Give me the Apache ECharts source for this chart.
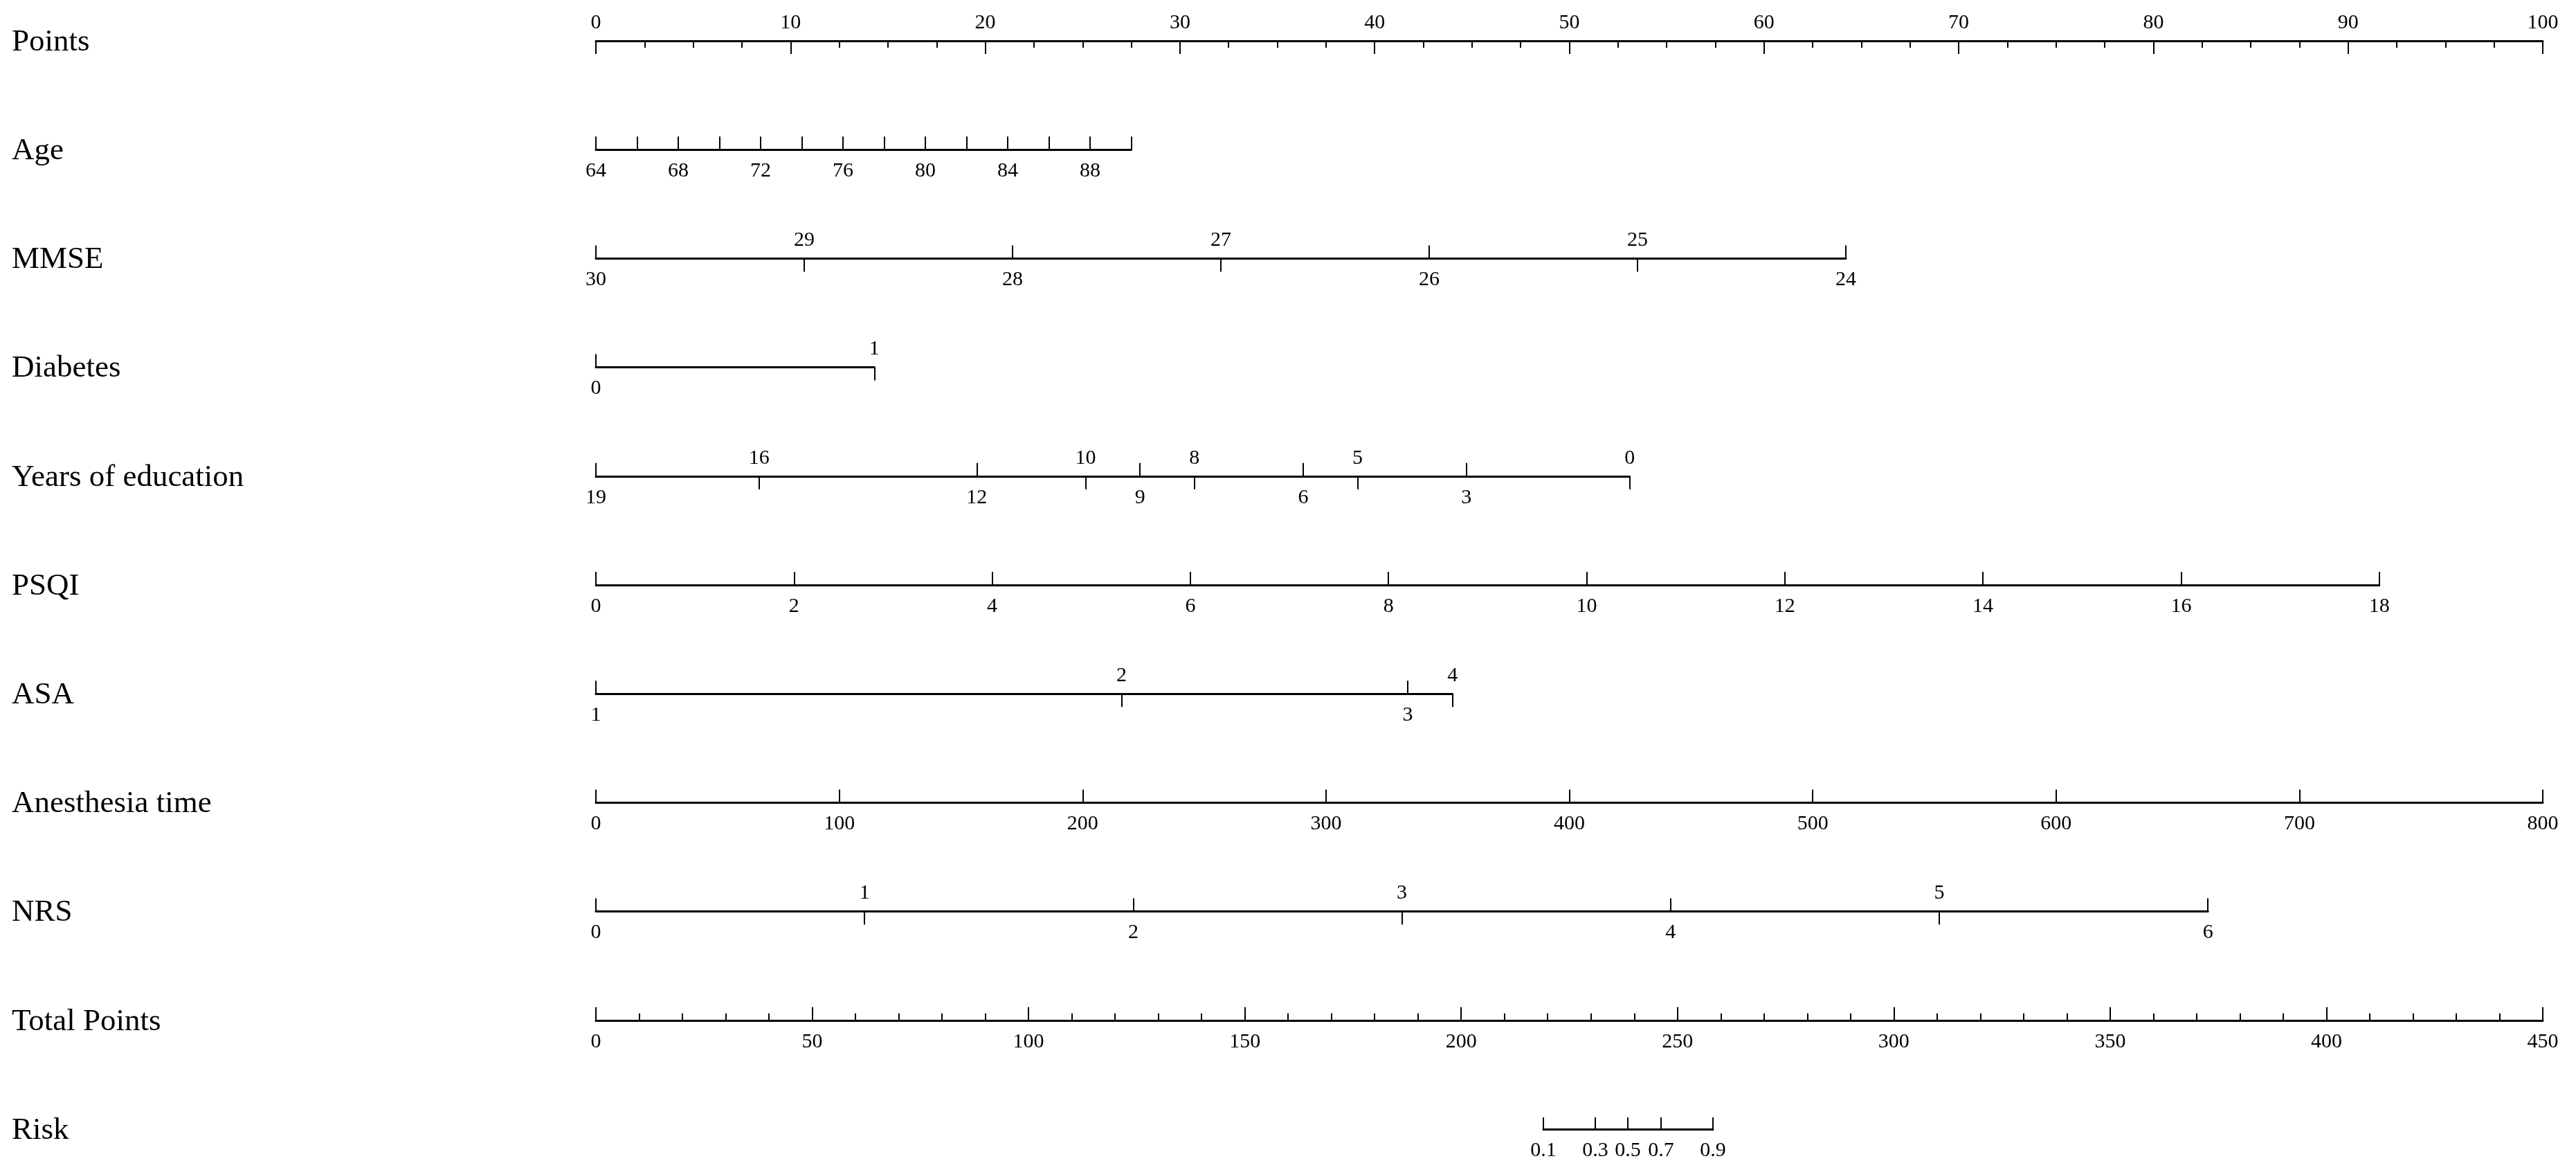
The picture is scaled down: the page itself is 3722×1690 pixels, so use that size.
<!DOCTYPE html>
<html>
<head>
<meta charset="utf-8">
<script src="https://cdn.jsdelivr.net/npm/echarts@6.0.0/dist/echarts.min.js"></script>
<style>
html, body { margin: 0; padding: 0; background: #fff; }
#chart { width: 3722px; height: 1690px; }
</style>
</head>
<body>
<div id="chart"></div>
<script>
'use strict';

// ---- data ----
var rowNames = ['Points', 'Age', 'MMSE', 'Diabetes', 'Years of education', 'PSQI',
    'ASA', 'Anesthesia time', 'NRS', 'Total Points', 'Risk'];

// points each predictor reaches at its far end (0 at the near end)
var agePointsMax = 27.5;
var mmsePointsMax = 64.2;
var diabetesPointsMax = 14.3;
var eduPointsMax = 53.1;
var psqiPointsMax = 91.6;
var anesPointsMax = 100;
var nrsPointsMax = 82.8;

var ageTicks = [64, 66, 68, 70, 72, 74, 76, 78, 80, 82, 84, 86, 88, 90];
var ageLabels = [64, 68, 72, 76, 80, 84, 88];

var mmseBelow = [30, 28, 26, 24];
var mmseAbove = [29, 27, 25];

var diabetesBelow = [0];
var diabetesAbove = [1];

var eduBelow = [19, 12, 9, 6, 3];
var eduAbove = [16, 10, 8, 5, 0];

var psqiTicks = [0, 2, 4, 6, 8, 10, 12, 14, 16, 18];

// ASA is not linear: points for each level
var asaLevels = [1, 2, 3, 4];
var asaPoints = [0, 27.0, 41.7, 44.0];

var anesTicks = [0, 100, 200, 300, 400, 500, 600, 700, 800];

var nrsBelow = [0, 2, 4, 6];
var nrsAbove = [1, 3, 5];

// risk on the total points scale
var riskLevels = [0.1, 0.3, 0.5, 0.7, 0.9];
var riskTotalPoints = [219.0, 231.0, 238.5, 246.2, 258.2];

var pointsMax = 100;
var totalPointsMax = 450;

// ---- layout ----
var FONT = '"Liberation Serif", "Times New Roman", serif';
var plotLeft = 861;
var plotRight = 3674;
var rowTop0 = 59;
var rowStep = 157.2;

function pxOfPoints(p) {
    return plotLeft + p / pointsMax * (plotRight - plotLeft);
}

function pxOfTotal(t) {
    return plotLeft + t / totalPointsMax * (plotRight - plotLeft);
}

function lookup(keys, names) {
    return function(v) {
        for (var i = 0; i < keys.length; i++) {
            if (Math.abs(keys[i] - v) < 1e-6) {
                return String(names[i]);
            }
        }
        return '';
    };
}

var rows = [
    {min: 0, max: pointsMax, from: pxOfPoints(0), to: pxOfPoints(pointsMax), line: 'top',
        above: {interval: 10, minor: 4}},
    {min: 64, max: 90, from: pxOfPoints(0), to: pxOfPoints(agePointsMax), line: 'bottom',
        below: {ticks: ageTicks, labels: ageLabels}},
    {min: 24, max: 30, inverse: true, from: pxOfPoints(0), to: pxOfPoints(mmsePointsMax), line: 'bottom',
        below: {ticks: mmseBelow, labels: mmseBelow}, above: {ticks: mmseAbove, labels: mmseAbove}},
    {min: 0, max: 1, from: pxOfPoints(0), to: pxOfPoints(diabetesPointsMax), line: 'bottom',
        below: {ticks: diabetesBelow, labels: diabetesBelow}, above: {ticks: diabetesAbove, labels: diabetesAbove}},
    {min: 0, max: 19, inverse: true, from: pxOfPoints(0), to: pxOfPoints(eduPointsMax), line: 'bottom',
        below: {ticks: eduBelow, labels: eduBelow}, above: {ticks: eduAbove, labels: eduAbove}},
    {min: 0, max: 18, from: pxOfPoints(0), to: pxOfPoints(psqiPointsMax), line: 'bottom',
        below: {ticks: psqiTicks, labels: psqiTicks}},
    {min: 0, max: asaPoints[3], from: pxOfPoints(0), to: pxOfPoints(asaPoints[3]), line: 'bottom',
        fmt: lookup(asaPoints, asaLevels),
        below: {ticks: [asaPoints[0], asaPoints[2]], labels: [asaPoints[0], asaPoints[2]]},
        above: {ticks: [asaPoints[1], asaPoints[3]], labels: [asaPoints[1], asaPoints[3]]}},
    {min: 0, max: 800, from: pxOfPoints(0), to: pxOfPoints(anesPointsMax), line: 'bottom',
        below: {ticks: anesTicks, labels: anesTicks}},
    {min: 0, max: 6, from: pxOfPoints(0), to: pxOfPoints(nrsPointsMax), line: 'bottom',
        below: {ticks: nrsBelow, labels: nrsBelow}, above: {ticks: nrsAbove, labels: nrsAbove}},
    {min: 0, max: totalPointsMax, from: pxOfTotal(0), to: pxOfTotal(totalPointsMax), line: 'bottom',
        below: {interval: 50, minor: 5}},
    {min: riskTotalPoints[0], max: riskTotalPoints[4], from: pxOfTotal(riskTotalPoints[0]),
        to: pxOfTotal(riskTotalPoints[4]), line: 'bottom', tickLen: 17,
        fmt: lookup(riskTotalPoints, riskLevels),
        below: {ticks: riskTotalPoints, labels: riskTotalPoints}}
];

function buildAxis(row, gi, position, side) {
    var showLine = row.line === position;
    var ax = {
        type: 'value',
        gridIndex: gi,
        position: position,
        min: row.min,
        max: row.max,
        inverse: !!row.inverse,
        show: showLine || !!side,
        splitLine: {show: false},
        axisLine: {show: showLine, onZero: false, lineStyle: {color: '#000', width: 3}},
        axisTick: {show: !!side, inside: true, length: row.tickLen || 19,
            lineStyle: {color: '#000', width: 2}},
        axisLabel: {show: !!side, margin: position === 'top' ? 11 : 16, color: '#000',
            fontFamily: FONT, fontSize: 30},
        minorTick: {show: false}
    };
    if (row.fmt) {
        ax.axisLabel.formatter = row.fmt;
    }
    if (side && side.interval) {
        ax.interval = side.interval;
        ax.minorTick = {show: true, splitNumber: side.minor, length: 10,
            lineStyle: {color: '#000', width: 2}};
    } else if (side) {
        ax.axisTick.customValues = side.ticks;
        ax.axisLabel.customValues = side.labels;
    }
    return ax;
}

var grids = [], xAxes = [], yAxes = [];
rows.forEach(function(row, i) {
    grids.push({
        left: row.from,
        width: row.to - row.from,
        top: rowTop0 + i * rowStep,
        height: 0,
        outerBoundsMode: 'none',
        containLabel: false
    });
    xAxes.push(buildAxis(row, i, 'bottom', row.below));
    xAxes.push(buildAxis(row, i, 'top', row.above));
    yAxes.push({gridIndex: i, type: 'value', show: false});
});

var labels = rowNames.map(function(name, i) {
    return {
        type: 'text',
        x: 17,
        y: rowTop0 + i * rowStep + 2,
        style: {text: name, fill: '#000', fontFamily: FONT, fontSize: 45,
            align: 'left', verticalAlign: 'middle'}
    };
});

var chart = echarts.init(document.getElementById('chart'));
chart.setOption({
    animation: false,
    backgroundColor: '#fff',
    grid: grids,
    xAxis: xAxes,
    yAxis: yAxes,
    graphic: labels,
    series: []
});
</script>
</body>
</html>
